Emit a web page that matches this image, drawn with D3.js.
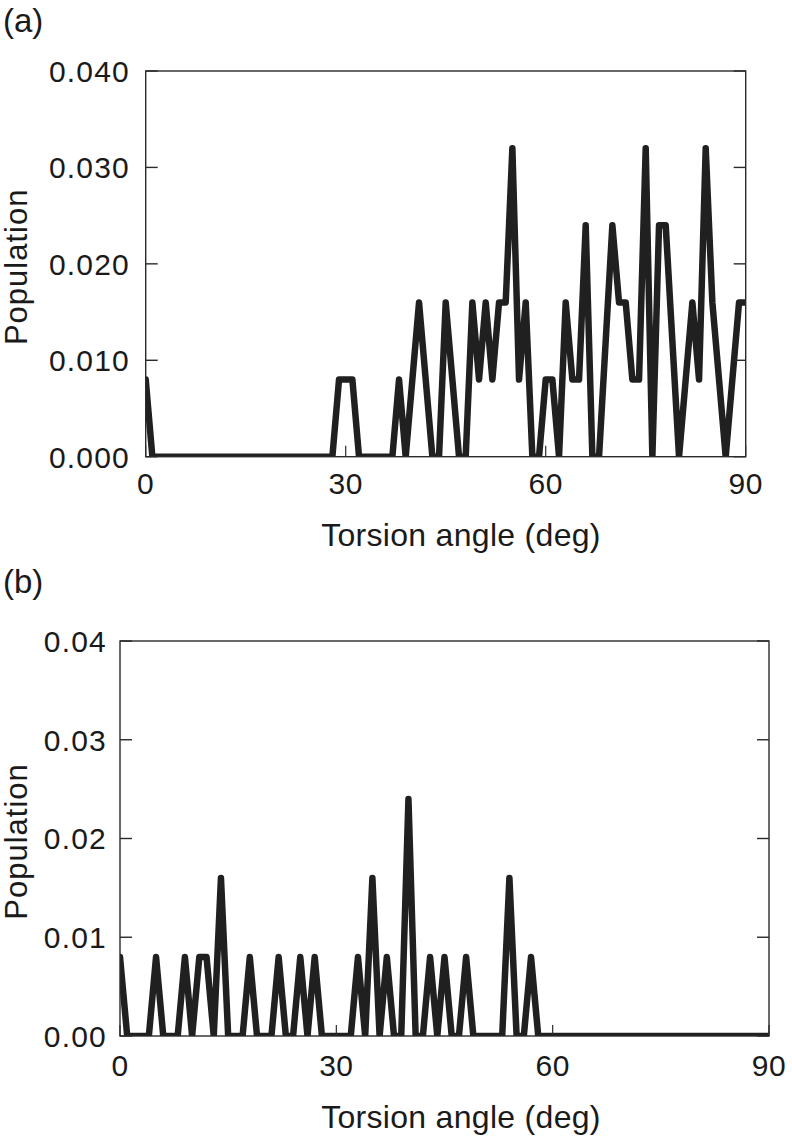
<!DOCTYPE html>
<html>
<head>
<meta charset="utf-8">
<script src="https://cdn.jsdelivr.net/npm/d3@7"></script>
<style>
  html, body { margin: 0; padding: 0; background: #fff; }
  text { font-family: "Liberation Sans", Arial, Helvetica, sans-serif; fill: #1a1a1a; }
</style>
</head>
<body>
<svg id="chart" width="792" height="1138"></svg>
<script>
// Torsion angle categories (deg)
const angles = d3.range(0, 91);

// Panel (a) population per degree
const popA = [
  0.008, 0, 0, 0, 0, 0, 0, 0, 0, 0,
  0, 0, 0, 0, 0, 0, 0, 0, 0, 0,
  0, 0, 0, 0, 0, 0, 0, 0, 0, 0.008,
  0.008, 0.008, 0, 0, 0, 0, 0, 0, 0.008, 0,
  0.008, 0.016, 0.008, 0, 0, 0.016, 0.008, 0, 0, 0.016,
  0.008, 0.016, 0.008, 0.016, 0.016, 0.032, 0.008, 0.016, 0, 0,
  0.008, 0.008, 0, 0.016, 0.008, 0.008, 0.024, 0, 0, 0.012,
  0.024, 0.016, 0.016, 0.008, 0.008, 0.032, 0, 0.024, 0.024, 0.012,
  0, 0.008, 0.016, 0.008, 0.032, 0.016, 0.008, 0, 0.008, 0.016,
  0.016
];

// Panel (b) population per degree
const popB = [
  0.008, 0, 0, 0, 0, 0.008, 0, 0, 0, 0.008,
  0, 0.008, 0.008, 0, 0.016, 0, 0, 0, 0.008, 0,
  0, 0, 0.008, 0, 0, 0.008, 0, 0.008, 0, 0,
  0, 0, 0, 0.008, 0, 0.016, 0, 0.008, 0, 0,
  0.024, 0, 0, 0.008, 0, 0.008, 0, 0, 0.008, 0,
  0, 0, 0, 0, 0.016, 0, 0, 0.008, 0, 0,
  0, 0, 0, 0, 0, 0, 0, 0, 0, 0,
  0, 0, 0, 0, 0, 0, 0, 0, 0, 0,
  0, 0, 0, 0, 0, 0, 0, 0, 0, 0,
  0
];

const xTicks = [0, 30, 60, 90];
const yTicks = [0, 0.01, 0.02, 0.03, 0.04];
const panelLabels = ["(a)", "(b)"];
const xTitle = "Torsion angle (deg)";
const yTitle = "Population";

const panels = [
  { label: panelLabels[0], values: popA, fmt: d3.format(".3f"),
    box: { left: 145.7, right: 745.7, top: 71, bottom: 456.7 },
    labelY: 32, yLabX: 130, xLabOff: 37.5, titleOff: 89.5, yTitleX: 27 },
  { label: panelLabels[1], values: popB, fmt: d3.format(".2f"),
    box: { left: 120, right: 769, top: 641, bottom: 1036 },
    labelY: 593, yLabX: 107, xLabOff: 40, titleOff: 92, yTitleX: 27 }
];

const svg = d3.select("#chart");
svg.append("rect").attr("width", 792).attr("height", 1138).attr("fill", "#fff");

panels.forEach((p, i) => {
  const b = p.box;
  const x = d3.scaleLinear().domain([0, 90]).range([b.left, b.right]);
  const y = d3.scaleLinear().domain([0, 0.04]).range([b.bottom, b.top]);
  const g = svg.append("g");

  // clip
  const clipId = "clip" + i;
  svg.append("defs").append("clipPath").attr("id", clipId)
    .append("rect").attr("x", b.left).attr("y", b.top)
    .attr("width", b.right - b.left).attr("height", b.bottom - b.top);

  // data line
  const data = angles.map((a, k) => [a, p.values[k]]);
  g.append("path")
    .datum(data)
    .attr("clip-path", `url(#${clipId})`)
    .attr("fill", "none")
    .attr("stroke", "#202020")
    .attr("stroke-width", 6.5)
    .attr("stroke-linejoin", "round")
    .attr("stroke-linecap", "round")
    .attr("d", d3.line().x(d => x(d[0])).y(d => y(d[1])));

  // frame
  g.append("rect")
    .attr("x", b.left).attr("y", b.top)
    .attr("width", b.right - b.left).attr("height", b.bottom - b.top)
    .attr("fill", "none").attr("stroke", "#2a2a2a").attr("stroke-width", 1.4);

  // y ticks (left and right, inward)
  const tickLen = 12;
  yTicks.forEach(t => {
    g.append("line").attr("x1", b.left).attr("x2", b.left + tickLen)
      .attr("y1", y(t)).attr("y2", y(t)).attr("stroke", "#2a2a2a").attr("stroke-width", 1.4);
    g.append("line").attr("x1", b.right).attr("x2", b.right - tickLen)
      .attr("y1", y(t)).attr("y2", y(t)).attr("stroke", "#2a2a2a").attr("stroke-width", 1.4);
    g.append("text")
      .attr("x", p.yLabX).attr("y", y(t)).attr("dy", "0.36em")
      .attr("text-anchor", "end")
      .attr("font-size", 30).attr("letter-spacing", 1.2)
      .text(p.fmt(t));
  });

  // x ticks (inward, bottom)
  xTicks.forEach(t => {
    g.append("line").attr("x1", x(t)).attr("x2", x(t))
      .attr("y1", b.bottom).attr("y2", b.bottom - 11)
      .attr("stroke", "#2a2a2a").attr("stroke-width", 1.2);
    g.append("text")
      .attr("x", x(t)).attr("y", b.bottom + p.xLabOff)
      .attr("text-anchor", "middle")
      .attr("font-size", 30).attr("letter-spacing", 0.5)
      .text(t);
  });

  // x title
  g.append("text")
    .attr("x", 461).attr("y", b.bottom + p.titleOff)
    .attr("text-anchor", "middle")
    .attr("font-size", 32).attr("letter-spacing", 0.3)
    .text(xTitle);

  // y title
  const cy = (b.top + b.bottom) / 2 + 3;
  g.append("text")
    .attr("transform", `translate(${p.yTitleX},${cy}) rotate(-90)`)
    .attr("text-anchor", "middle")
    .attr("font-size", 31).attr("letter-spacing", 1)
    .text(yTitle);

  // panel label
  g.append("text")
    .attr("x", 3).attr("y", p.labelY)
    .attr("font-size", 33)
    .text(p.label);
});
</script>
</body>
</html>
